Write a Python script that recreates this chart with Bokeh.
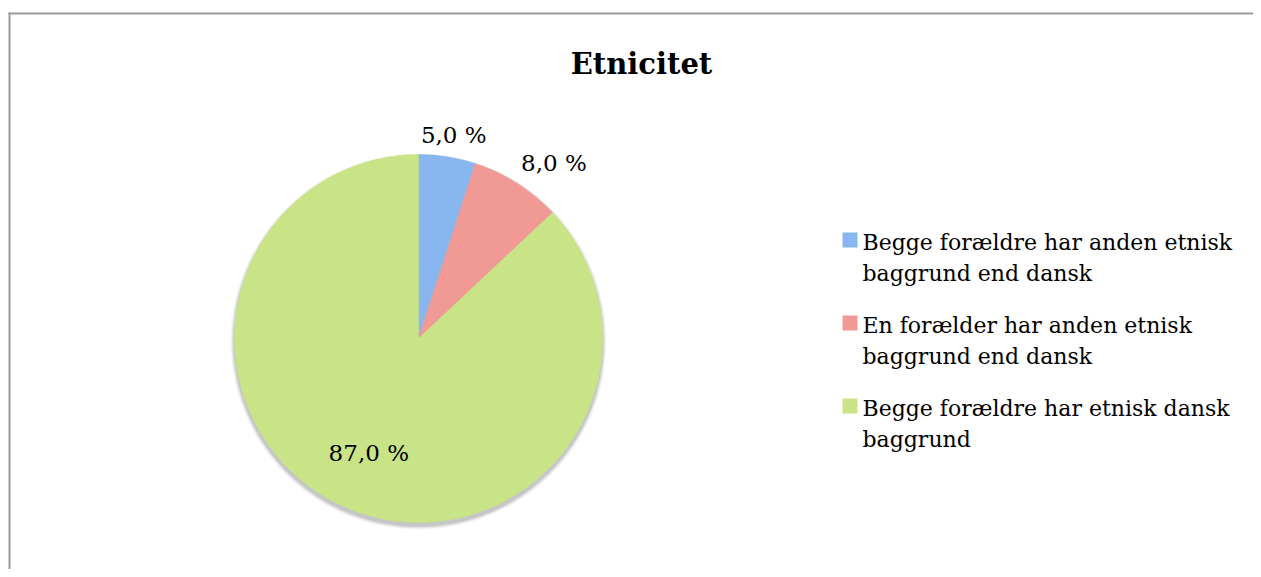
import math
import textwrap
from bokeh.plotting import figure
from bokeh.models import Range1d, ColumnDataSource
from bokeh.core.properties import value
from bokeh.embed import file_html
from bokeh.resources import INLINE

# ---- data ----
title_text = "Etnicitet"
categories = [
    "Begge forældre har anden etnisk baggrund end dansk",
    "En forælder har anden etnisk baggrund end dansk",
    "Begge forældre har etnisk dansk baggrund",
]
shares = [5.0, 8.0, 87.0]
colors = ["#88b6ef", "#f19a95", "#c9e487"]

# ---- layout ----
W, H = 1253, 569
FONT = "DejaVu Serif"
cx, cy, R = 418, H - 338, 184

p = figure(width=W, height=H, output_backend="svg", toolbar_location=None,
           x_range=Range1d(0, W), y_range=Range1d(0, H),
           min_border=0, min_border_left=0, min_border_right=0,
           min_border_top=0, min_border_bottom=0)
p.axis.visible = False
p.grid.visible = False
p.outline_line_color = None
p.background_fill_color = "white"
p.border_fill_color = "white"

# chart border (top & left visible, right/bottom cut off as in reference)
bx, by = 9, H - 13
p.segment(x0=[bx, bx - 1], y0=[by + 1, by], x1=[bx, W], y1=[0, by],
          line_color="#9a9a9a", line_width=2)

# soft shadow
for k, a in [(4, 0.04), (3, 0.05), (2, 0.07), (1, 0.08)]:
    p.circle(x=[cx], y=[cy - 3], radius=R + k, fill_color="#000000",
             fill_alpha=a, line_color=None)

# wedges
total = sum(shares)
starts, ends, mids = [], [], []
cum = 0.0
for s in shares:
    a0 = math.pi / 2 - 2 * math.pi * cum / total
    cum += s
    a1 = math.pi / 2 - 2 * math.pi * cum / total
    starts.append(a0)
    ends.append(a1)
    mids.append((a0 + a1) / 2)

src = ColumnDataSource(dict(start=starts, end=ends, color=colors))
p.wedge(x=cx, y=cy, radius=R, start_angle="start", end_angle="end",
        direction="clock", fill_color="color", line_color="color",
        line_width=0.5, source=src)

# data labels
lab_x, lab_y, lab_t = [], [], []
tw, th = 63, 24
for s, m in zip(shares, mids):
    txt = f"{s:.1f}".replace(".", ",") + " %"
    c, sn = math.cos(m), math.sin(m)
    if s / total < 0.2:
        d = R + 10
        hx = math.copysign(tw / 2, c) if abs(c) > 0.3 else c * tw / 2
        hy = math.copysign(th / 2, sn) if abs(sn) > 0.3 else sn * th / 2
        lab_x.append(cx + d * c + hx)
        lab_y.append(cy + d * sn + hy)
    else:
        d = 0.68 * R
        lab_x.append(cx + d * c)
        lab_y.append(cy + d * sn)
    lab_t.append(txt)
p.text(x=lab_x, y=lab_y, text=lab_t, text_font=value(FONT),
       text_font_size="23px", text_align="center", text_baseline="middle",
       text_color="#000000")

# title
p.text(x=[641], y=[H - 63], text=[title_text], text_font=value(FONT),
       text_font_size="29px", text_font_style="bold", text_align="center",
       text_baseline="middle", text_color="#000000")

# legend
sw_x, sw_y, sw_c = [], [], []
lt_x, lt_y, lt_t = [], [], []
line_gap, entry_extra = 31, 21
y = H - 242
for cat, col in zip(categories, colors):
    lines = textwrap.wrap(cat, width=31)
    sw_x.append(849.5)
    sw_y.append(y + 2.5)
    sw_c.append(col)
    for j, ln in enumerate(lines):
        lt_x.append(862)
        lt_y.append(y - j * line_gap)
        lt_t.append(ln)
    y -= len(lines) * line_gap + entry_extra
p.rect(x=sw_x, y=sw_y, width=15, height=15, width_units="screen",
       height_units="screen", fill_color=sw_c, line_color=None)
p.text(x=lt_x, y=lt_y, text=lt_t, text_font=value(FONT), text_font_size="22px",
       text_align="left", text_baseline="middle", text_color="#000000")

open("out.html", "w").write(file_html(p, INLINE))
